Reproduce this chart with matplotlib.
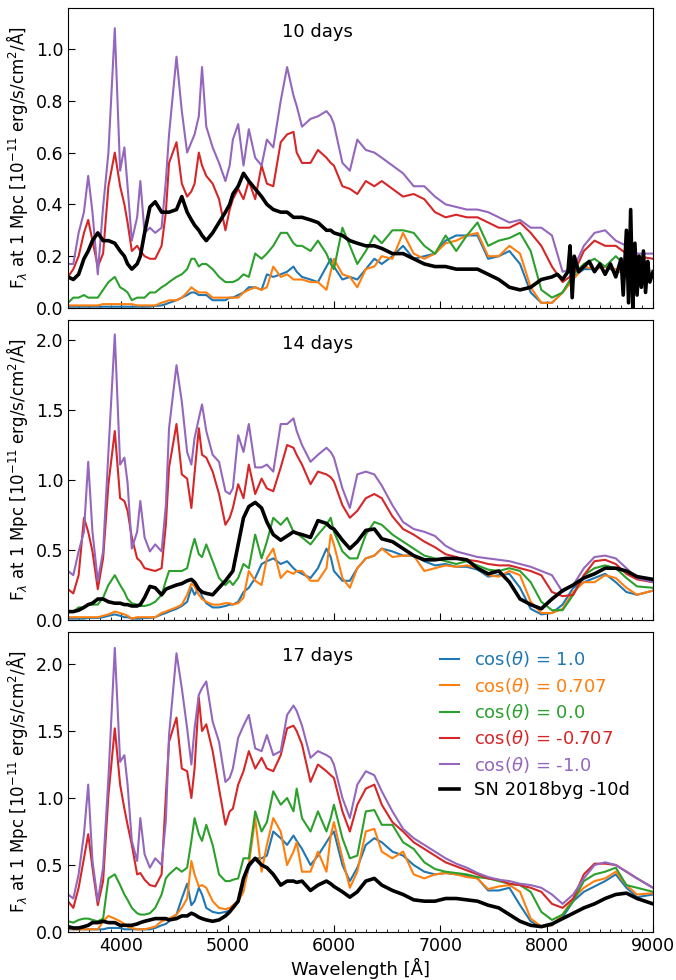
import matplotlib
matplotlib.use("Agg")
import matplotlib.pyplot as plt
from matplotlib.ticker import MultipleLocator

# ---------------- data ----------------
WAVE = [
    3500, 3550, 3600, 3650, 3690, 3730, 3780, 3830, 3880, 3940,
    3990, 4030, 4060, 4100, 4150, 4180, 4220, 4270, 4320, 4380,
    4420, 4450, 4520, 4570, 4620, 4660, 4690, 4730, 4760, 4800,
    4860, 4920, 4980, 5020, 5050, 5100, 5150, 5200, 5260, 5320,
    5370, 5430, 5500, 5560, 5620, 5650, 5700, 5780, 5850, 5930,
    5970, 6000, 6080, 6150, 6220, 6300, 6380, 6450, 6550, 6650,
    6750, 6850, 6950, 7050, 7150, 7250, 7350, 7450, 7550, 7650,
    7750, 7850, 7950, 8050, 8150, 8250, 8350, 8450, 8550, 8650,
    8750, 8850, 9000]

# ---- 10 days ----
D10_BLUE = [
    .005, .005, .005, .005, .005, .005, .005, .005, .005, .005,
    .005, .005, .005, .005, .005, .005, .005, .005, .008, .01,
    .015, .02, .03, .04, .05, .06, .06, .05, .05, .05,
    .03, .03, .03, .04, .04, .05, .06, .08, .08, .07,
    .13, .12, .13, .14, .16, .14, .12, .11, .10, .16,
    .19, .16, .11, .12, .11, .15, .19, .17, .20, .24,
    .19, .20, .21, .26, .28, .28, .28, .19, .20, .22,
    .17, .06, .02, .02, .06, .12, .15, .15, .16, .14,
    .14, .12, .13]
D10_ORANGE = [
    .01, .01, .01, .01, .01, .01, .01, .015, .015, .015,
    .015, .015, .015, .015, .01, .01, .01, .01, .01, .02,
    .025, .03, .03, .04, .06, .08, .07, .06, .06, .06,
    .04, .04, .04, .04, .04, .04, .06, .07, .08, .07,
    .08, .16, .12, .13, .11, .11, .11, .10, .10, .07,
    .14, .19, .13, .12, .08, .15, .16, .20, .19, .29,
    .21, .19, .21, .25, .26, .28, .29, .20, .20, .24,
    .21, .08, .02, .02, .06, .11, .16, .15, .16, .15,
    .13, .11, .12]
D10_GREEN = [
    .02, .04, .04, .05, .04, .04, .04, .07, .10, .12,
    .08, .07, .06, .03, .04, .04, .04, .06, .06, .08,
    .09, .10, .12, .13, .15, .19, .19, .16, .17, .17,
    .15, .12, .10, .10, .10, .11, .13, .12, .21, .19,
    .21, .24, .29, .29, .25, .24, .24, .22, .26, .21,
    .17, .15, .31, .24, .17, .22, .28, .25, .30, .30,
    .29, .24, .21, .28, .22, .28, .33, .24, .26, .27,
    .29, .22, .07, .04, .06, .13, .17, .19, .16, .20,
    .16, .13, .13]
D10_RED = [
    .12, .15, .20, .29, .34, .26, .16, .21, .47, .60,
    .47, .40, .33, .22, .24, .22, .20, .19, .19, .24,
    .37, .56, .64, .48, .43, .45, .48, .60, .55, .51,
    .48, .42, .30, .38, .42, .46, .42, .49, .42, .55,
    .48, .47, .64, .67, .68, .60, .56, .56, .61, .58,
    .56, .55, .47, .46, .44, .49, .47, .49, .46, .43,
    .44, .42, .37, .35, .36, .35, .35, .33, .31, .31,
    .33, .29, .24, .16, .10, .13, .22, .26, .24, .24,
    .21, .20, .19]
D10_PURPLE = [
    .17, .17, .29, .37, .51, .37, .13, .39, .60, 1.08,
    .53, .62, .47, .26, .35, .49, .29, .31, .29, .31,
    .49, .67, .97, .76, .60, .64, .67, .74, .93, .70,
    .62, .56, .49, .55, .65, .71, .55, .69, .58, .55,
    .65, .62, .80, .93, .82, .78, .70, .73, .74, .76,
    .74, .71, .56, .53, .65, .61, .60, .58, .55, .52,
    .47, .47, .43, .40, .39, .38, .38, .37, .35, .33,
    .34, .31, .31, .28, .14, .15, .24, .29, .30, .26,
    .24, .21, .21]
# observed spectrum, first 73 grid points, then a noisy red tail
D10_SN = [
    .12, .11, .13, .19, .22, .26, .29, .26, .26, .25,
    .22, .20, .17, .15, .17, .20, .29, .39, .41, .37,
    .37, .37, .38, .43, .37, .34, .32, .30, .28, .26,
    .29, .33, .37, .40, .44, .47, .52, .49, .46, .43,
    .40, .38, .37, .37, .35, .35, .35, .34, .33, .30,
    .30, .29, .28, .26, .25, .24, .24, .23, .21, .21,
    .19, .17, .16, .16, .15, .15, .15, .13, .11, .08,
    .07, .08, .11]
D10_SN_TAIL_WAVE = [8050, 8100, 8150, 8200, 8220, 8240, 8260, 8300, 8350, 8400,
                    8450, 8500, 8550, 8600, 8650, 8700, 8720, 8750, 8770, 8790,
                    8810, 8830, 8850, 8870, 8890, 8910, 8930, 8950, 8970, 9000]
D10_SN_TAIL_FLUX = [.12, .13, .11, .14, .24, .04, .20, .14, .16, .18,
                    .14, .17, .13, .17, .12, .19, .05, .30, .02, .38,
                    .00, .25, .05, .20, .08, .22, .06, .18, .10, .14]

# ---- 14 days ----
D14_BLUE = [
    .01, .01, .01, .01, .015, .015, .015, .02, .03, .04,
    .03, .02, .02, .01, .01, .01, .015, .015, .02, .04,
    .05, .06, .08, .10, .13, .23, .18, .23, .17, .12,
    .09, .09, .10, .11, .11, .13, .20, .23, .30, .40,
    .42, .44, .40, .42, .37, .35, .33, .30, .37, .51,
    .45, .35, .28, .28, .37, .44, .46, .51, .49, .46,
    .46, .42, .39, .40, .38, .38, .36, .31, .32, .33,
    .23, .08, .04, .05, .11, .23, .27, .30, .33, .27,
    .20, .18, .21]
D14_ORANGE = [
    .02, .02, .02, .02, .02, .02, .02, .03, .04, .06,
    .05, .04, .03, .01, .02, .02, .02, .02, .02, .05,
    .06, .07, .09, .11, .18, .26, .24, .18, .15, .13,
    .11, .11, .12, .12, .11, .12, .16, .35, .28, .25,
    .44, .51, .30, .35, .33, .35, .35, .28, .28, .37,
    .61, .54, .30, .23, .37, .44, .46, .51, .45, .46,
    .46, .35, .37, .39, .38, .39, .37, .32, .31, .35,
    .32, .13, .05, .05, .08, .20, .27, .27, .32, .30,
    .23, .18, .21]
D14_GREEN = [
    .06, .06, .09, .09, .11, .11, .11, .16, .25, .32,
    .25, .20, .15, .12, .11, .10, .10, .11, .13, .18,
    .28, .35, .35, .35, .37, .50, .58, .47, .45, .54,
    .42, .30, .25, .28, .25, .30, .40, .37, .61, .44,
    .56, .73, .68, .73, .63, .62, .59, .54, .61, .68,
    .73, .63, .49, .44, .44, .61, .70, .68, .61, .56,
    .51, .46, .44, .42, .40, .42, .39, .36, .35, .37,
    .35, .27, .13, .07, .07, .18, .32, .37, .39, .37,
    .30, .24, .23]
D14_RED = [
    .22, .19, .32, .73, .63, .49, .22, .44, .97, 1.35,
    .87, .85, .78, .59, .44, .42, .37, .36, .35, .37,
    .68, 1.09, 1.40, 1.04, 1.01, .80, 1.05, 1.37, 1.18, 1.16,
    1.06, .90, .68, .73, .80, .97, .87, 1.11, .90, 1.01,
    .94, .92, 1.09, 1.25, 1.23, 1.18, 1.11, .97, 1.06, 1.04,
    1.02, .99, .82, .73, .78, .87, .90, .87, .74, .65,
    .61, .56, .52, .47, .45, .43, .42, .40, .39, .39,
    .37, .35, .32, .20, .17, .18, .32, .42, .43, .40,
    .33, .29, .27]
D14_PURPLE = [
    .35, .32, .49, .63, 1.13, .63, .28, .49, 1.20, 2.04,
    1.11, 1.16, .98, .51, .63, .85, .59, .49, .54, .49,
    .82, 1.37, 1.82, 1.56, 1.20, 1.11, 1.30, 1.44, 1.54, 1.35,
    1.18, 1.13, .92, .90, .94, 1.32, 1.20, 1.40, 1.09, 1.09,
    1.11, 1.06, 1.40, 1.40, 1.44, 1.35, 1.25, 1.13, 1.18, 1.23,
    1.20, 1.16, .94, .80, 1.04, 1.06, 1.04, .96, .82, .70,
    .65, .63, .60, .53, .49, .47, .45, .44, .43, .42,
    .40, .38, .35, .32, .20, .25, .37, .45, .46, .44,
    .37, .30, .27]
D14_SN = [
    .06, .06, .07, .09, .11, .12, .15, .15, .13, .12,
    .12, .11, .11, .10, .10, .11, .16, .24, .23, .18,
    .22, .23, .25, .26, .28, .29, .27, .22, .20, .19,
    .18, .23, .28, .32, .35, .54, .73, .81, .84, .80,
    .70, .61, .57, .60, .63, .62, .61, .59, .71, .69,
    .66, .65, .57, .51, .56, .64, .65, .58, .56, .51,
    .46, .43, .43, .44, .44, .43, .37, .33, .35, .27,
    .15, .11, .08, .15, .21, .25, .30, .33, .37, .37,
    .35, .31, .29]

# ---- 17 days ----
D17_BLUE = [
    .02, .02, .02, .02, .02, .02, .02, .02, .03, .03,
    .03, .02, .02, .02, .02, .02, .02, .02, .03, .05,
    .06, .08, .13, .25, .36, .20, .23, .33, .28, .18,
    .15, .14, .15, .16, .19, .23, .33, .48, .55, .55,
    .57, .75, .70, .65, .72, .68, .62, .50, .57, .67,
    .72, .75, .50, .38, .48, .65, .70, .67, .60, .57,
    .50, .45, .43, .44, .43, .42, .40, .31, .31, .33,
    .20, .08, .04, .05, .11, .23, .30, .34, .38, .43,
    .33, .26, .28]
D17_ORANGE = [
    .03, .02, .02, .02, .02, .02, .02, .08, .12, .10,
    .08, .06, .04, .03, .02, .02, .02, .03, .04, .08,
    .09, .10, .13, .18, .25, .53, .43, .34, .35, .33,
    .23, .18, .17, .18, .20, .23, .30, .50, .85, .45,
    .65, .85, .75, .50, .60, .67, .45, .45, .60, .45,
    .72, .82, .55, .33, .45, .75, .77, .60, .55, .60,
    .43, .40, .43, .44, .43, .41, .40, .32, .34, .35,
    .30, .10, .04, .05, .13, .25, .33, .38, .40, .45,
    .35, .28, .29]
D17_GREEN = [
    .08, .07, .09, .10, .10, .09, .08, .10, .40, .43,
    .35, .28, .24, .18, .14, .13, .13, .14, .18, .28,
    .40, .43, .48, .45, .48, .68, .85, .73, .68, .80,
    .65, .43, .38, .38, .39, .40, .55, .55, .90, .75,
    .82, 1.05, .95, 1.00, .90, 1.07, .85, .75, .90, .75,
    .85, .95, .70, .55, .57, .90, .91, .80, .80, .67,
    .62, .52, .47, .45, .44, .43, .41, .40, .38, .36,
    .35, .30, .15, .09, .13, .23, .38, .43, .45, .48,
    .35, .33, .30]
D17_RED = [
    .23, .18, .33, .55, .73, .48, .20, .38, 1.02, 1.52,
    1.10, .92, .80, .65, .43, .44, .39, .35, .34, .43,
    1.02, 1.42, 1.60, 1.22, 1.20, 1.00, 1.22, 1.75, 1.50, 1.55,
    1.35, 1.07, .80, .90, .92, 1.10, 1.20, 1.35, 1.22, 1.30,
    1.22, 1.20, 1.32, 1.52, 1.54, 1.50, 1.40, 1.12, 1.25, 1.20,
    1.17, 1.15, .90, .75, .95, 1.07, 1.10, .95, .82, .75,
    .67, .62, .57, .52, .49, .46, .43, .40, .39, .36,
    .35, .33, .30, .21, .18, .25, .43, .51, .51, .50,
    .45, .40, .33]
D17_PURPLE = [
    .28, .25, .43, .73, 1.10, .53, .23, .48, 1.15, 2.12,
    1.27, 1.32, 1.10, .68, .53, .85, .58, .48, .55, .50,
    .83, 1.47, 2.08, 1.82, 1.52, 1.25, 1.52, 1.77, 1.82, 1.87,
    1.57, 1.42, 1.12, 1.15, 1.22, 1.45, 1.54, 1.62, 1.37, 1.35,
    1.47, 1.32, 1.35, 1.62, 1.69, 1.65, 1.54, 1.30, 1.35, 1.32,
    1.30, 1.25, 1.00, .85, 1.10, 1.20, 1.17, 1.05, .90, .77,
    .70, .65, .60, .55, .51, .48, .44, .41, .39, .38,
    .36, .35, .33, .28, .21, .28, .40, .50, .52, .50,
    .45, .40, .33]
D17_SN = [
    .04, .03, .03, .04, .05, .07, .07, .08, .07, .07,
    .05, .05, .05, .05, .06, .07, .08, .09, .10, .10,
    .10, .09, .10, .12, .12, .14, .13, .11, .10, .09,
    .08, .09, .12, .15, .18, .23, .40, .50, .55, .50,
    .48, .43, .35, .38, .38, .37, .38, .31, .35, .38,
    .36, .34, .30, .26, .30, .38, .40, .35, .31, .28,
    .24, .23, .23, .25, .25, .24, .23, .20, .18, .13,
    .08, .05, .04, .06, .10, .14, .18, .21, .25, .28,
    .29, .25, .21]

LABELS = [r"cos($\theta$) = 1.0", r"cos($\theta$) = 0.707", r"cos($\theta$) = 0.0",
          r"cos($\theta$) = -0.707", r"cos($\theta$) = -1.0"]
SN_LABEL = "SN 2018byg -10d"
COLORS = ["#1f77b4", "#ff7f0e", "#2ca02c", "#d62728", "#9467bd"]
PANEL_TITLES = ["10 days", "14 days", "17 days"]
YMAX = [1.158, 2.143, 2.239]
YSTEP = [0.2, 0.5, 0.5]

models = [
    [D10_BLUE, D10_ORANGE, D10_GREEN, D10_RED, D10_PURPLE],
    [D14_BLUE, D14_ORANGE, D14_GREEN, D14_RED, D14_PURPLE],
    [D17_BLUE, D17_ORANGE, D17_GREEN, D17_RED, D17_PURPLE],
]
sn_wave = [WAVE[:len(D10_SN)] + D10_SN_TAIL_WAVE, WAVE, WAVE]
sn_flux = [D10_SN + D10_SN_TAIL_FLUX, D14_SN, D17_SN]

# ---------------- figure ----------------
W, H = 676, 980
fig = plt.figure(figsize=(W / 100, H / 100), dpi=100)
left, right = 68 / W, 653 / W
tops = [8, 320, 632]
ph = 300
axes = []
for i, t in enumerate(tops):
    ax = fig.add_axes([left, 1 - (t + ph) / H, right - left, ph / H])
    axes.append(ax)

ylabel = r"F$_\lambda$ at 1 Mpc [10$^{-11}$ erg/s/cm$^2$/Å]"
for i, ax in enumerate(axes):
    for series, col, lab in zip(models[i], COLORS, LABELS):
        ax.plot(WAVE, series, color=col, lw=1.5, label=lab)
    ax.plot(sn_wave[i], sn_flux[i], color="black", lw=2.6, label=SN_LABEL)
    ax.set_xlim(3500, 9000)
    ax.set_ylim(0, YMAX[i])
    ax.yaxis.set_major_locator(MultipleLocator(YSTEP[i]))
    ax.xaxis.set_major_locator(MultipleLocator(1000))
    ax.xaxis.set_minor_locator(MultipleLocator(100))
    ax.tick_params(axis="both", which="major", direction="in", length=5,
                   labelsize=12.5)
    ax.tick_params(axis="x", which="minor", direction="in", length=2.5)
    ax.text(0.427, 0.92, PANEL_TITLES[i], transform=ax.transAxes,
            ha="center", va="center", fontsize=13)
    ax.set_ylabel(ylabel, fontsize=12, labelpad=4)
    if i < 2:
        ax.tick_params(axis="x", labelbottom=False)

axes[2].set_xlabel("Wavelength [Å]", fontsize=13, labelpad=2)
leg = axes[2].legend(loc="upper right", frameon=False, fontsize=13,
                     handlelength=1.1, handletextpad=0.8, labelspacing=0.35,
                     borderaxespad=0.4, bbox_to_anchor=(0.985, 0.99))
for txt, line in zip(leg.get_texts(), leg.get_lines()):
    txt.set_color(line.get_color())

fig.savefig("out.png", dpi=100)
